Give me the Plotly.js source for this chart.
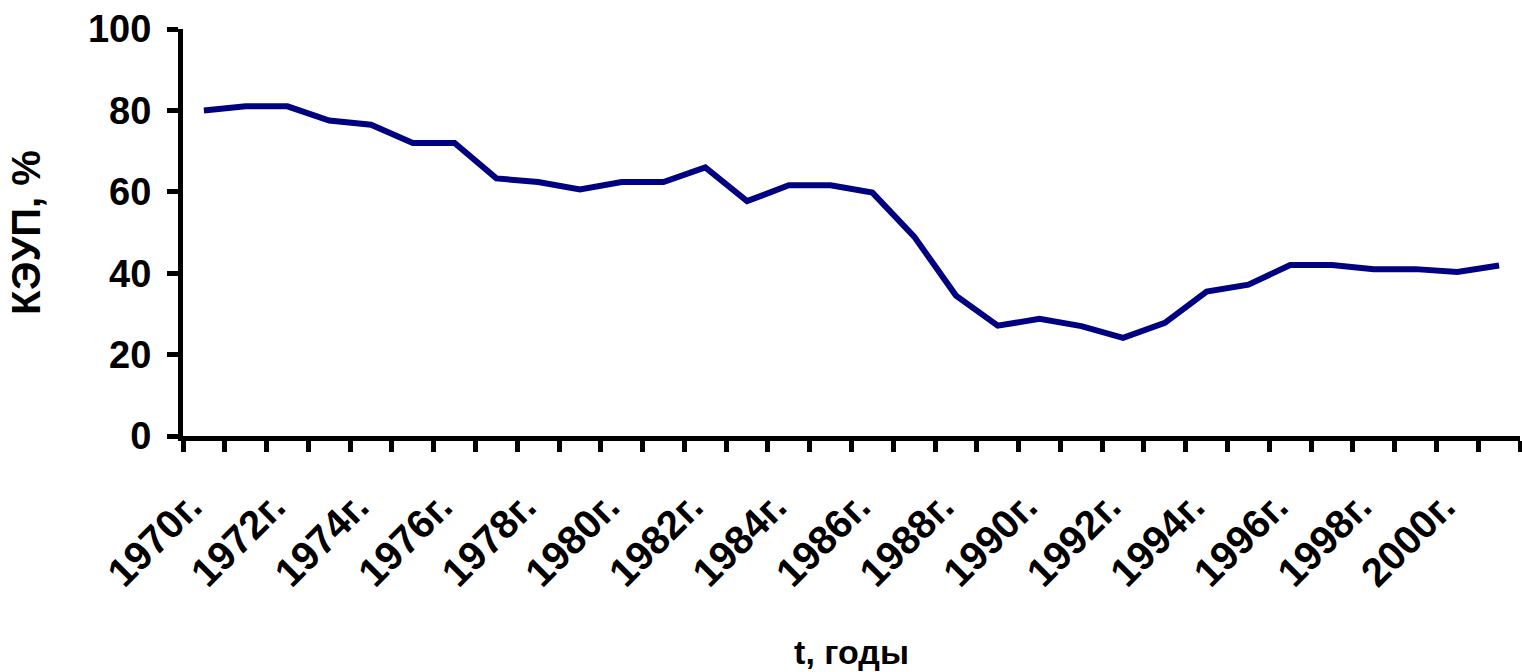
<!DOCTYPE html>
<html>
<head>
<meta charset="utf-8">
<script src="https://cdn.plot.ly/plotly-3.0.1.min.js"></script>
<style>html,body{margin:0;padding:0;background:#fff;}#chart{width:1522px;height:672px;}</style>
</head>
<body>
<div id="chart"></div>
<script>
const years = [1970,1971,1972,1973,1974,1975,1976,1977,1978,1979,1980,1981,1982,1983,1984,1985,
               1986,1987,1988,1989,1990,1991,1992,1993,1994,1995,1996,1997,1998,1999,2000,2001];
const keup = [80,81,81,77.5,76.5,72,72,63.3,62.4,60.6,62.4,62.4,66,57.7,61.6,61.6,
              59.8,49,34.5,27.1,28.8,27,24.1,27.8,35.5,37.2,42,42,41,41,40.3,41.9];
const tickYears = [1970,1972,1974,1976,1978,1980,1982,1984,1986,1988,1990,1992,1994,1996,1998,2000];
const tickLabels = tickYears.map(y => y + 'г.');
const yTicks = [0,20,40,60,80,100];

const FONT = '"Liberation Sans", Arial, sans-serif';

Plotly.newPlot('chart', [{
  x: years,
  y: keup,
  type: 'scatter',
  mode: 'lines',
  line: {color: '#000080', width: 6},
  hoverinfo: 'x+y'
}], {
  width: 1522,
  height: 672,
  margin: {l: 183, r: 2, t: 29, b: 236},
  paper_bgcolor: '#ffffff',
  plot_bgcolor: '#ffffff',
  showlegend: false,
  font: {family: FONT, color: '#000', size: 28},
  xaxis: {
    range: [1969.5, 2001.5],
    tickmode: 'array',
    tickvals: tickYears,
    ticktext: tickLabels,
    tickangle: -45,
    ticks: '',
    ticklabelstandoff: 26,
    ticklabelshift: -14,
    showgrid: false,
    zeroline: false,
    showline: true,
    linecolor: '#000',
    linewidth: 5,
    tickfont: {family: FONT, size: 40, weight: 'bold', color: '#000'},
    minor: {tick0: 1969.5, dtick: 1, ticks: 'outside', ticklen: 11, tickwidth: 5, tickcolor: '#000', showgrid: false},
    title: {text: 't, годы', font: {family: FONT, size: 34, weight: 'bold', color: '#000'}, standoff: 48},
    automargin: false
  },
  yaxis: {
    range: [0, 100],
    tickmode: 'array',
    tickvals: yTicks,
    ticks: 'outside',
    ticklen: 11,
    tickwidth: 5,
    tickcolor: '#000',
    showgrid: false,
    zeroline: false,
    showline: true,
    linecolor: '#000',
    linewidth: 5,
    ticklabelstandoff: 8,
    tickfont: {family: FONT, size: 38, weight: 'bold', color: '#000'},
    title: {text: 'КЭУП, %', font: {family: FONT, size: 40, weight: 'bold', color: '#000'}, standoff: 36},
    automargin: false
  }
}, {displayModeBar: false, staticPlot: true});
</script>
</body>
</html>
